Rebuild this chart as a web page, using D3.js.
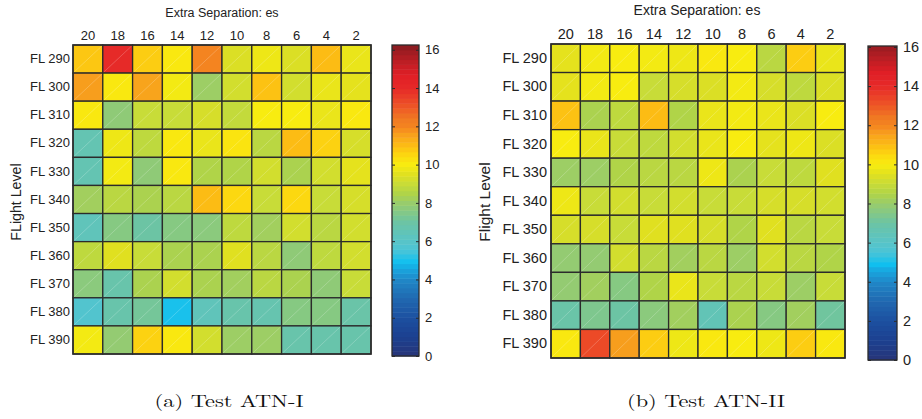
<!DOCTYPE html>
<html>
<head>
<meta charset="utf-8">
<script src="https://cdn.jsdelivr.net/npm/d3@7"></script>
<style>
  html, body { margin: 0; padding: 0; background: #fff; }
  svg { display: block; }
</style>
</head>
<body>
<svg id="chart" width="922" height="419"></svg>
<script>
// ---------------- data ----------------
const separations = ["20", "18", "16", "14", "12", "10", "8", "6", "4", "2"];
const flightLevels = ["FL 290", "FL 300", "FL 310", "FL 320", "FL 330", "FL 340",
                      "FL 350", "FL 360", "FL 370", "FL 380", "FL 390"];
const colorbarTicks = [0, 2, 4, 6, 8, 10, 12, 14, 16];

// Test ATN-I (rows = flight levels, columns = separations 20..2)
const atn1Values = [
  [10.8, 14.0, 10.7, 10.1, 12.0, 9.4, 9.8, 9.4, 11.0, 9.7],
  [11.6, 10.1, 11.5, 9.9, 8.1, 9.2, 10.9, 9.2, 9.7, 9.6],
  [10.1, 7.8, 9.0, 9.0, 9.3, 8.9, 10.0, 10.0, 9.7, 10.1],
  [6.6, 9.8, 8.8, 10.1, 9.7, 10.2, 8.7, 11.0, 10.6, 9.3],
  [6.6, 9.9, 7.8, 10.1, 8.5, 8.5, 9.2, 8.4, 9.2, 9.6],
  [8.2, 8.7, 8.4, 8.7, 11.0, 10.5, 9.0, 10.5, 9.0, 9.3],
  [6.4, 7.6, 7.0, 7.6, 7.7, 8.8, 8.2, 9.2, 8.7, 9.2],
  [8.8, 9.5, 9.0, 8.4, 8.4, 9.5, 8.7, 7.8, 8.8, 9.2],
  [7.7, 6.8, 8.4, 9.2, 8.4, 8.2, 8.7, 8.4, 7.8, 9.0],
  [5.8, 6.8, 7.2, 5.0, 6.4, 6.8, 6.7, 7.6, 7.6, 6.9],
  [9.9, 7.9, 10.6, 10.1, 9.2, 8.1, 8.1, 6.8, 6.8, 6.8]
];

// Test ATN-II
const atn2Values = [
  [9.6, 9.9, 10.0, 9.9, 9.8, 10.1, 10.0, 8.7, 10.7, 9.7],
  [9.6, 9.9, 10.0, 9.0, 9.3, 9.4, 9.9, 9.3, 8.8, 9.4],
  [10.9, 8.4, 8.8, 11.0, 8.5, 9.7, 9.9, 9.7, 9.4, 10.0],
  [10.0, 9.7, 9.0, 8.8, 9.2, 9.7, 10.0, 9.6, 9.8, 9.4],
  [8.1, 8.1, 8.5, 8.7, 8.7, 9.8, 8.4, 9.0, 8.8, 9.5],
  [9.8, 9.0, 9.2, 9.0, 9.2, 9.0, 9.0, 9.3, 9.3, 9.2],
  [9.3, 9.3, 9.0, 9.5, 9.5, 9.3, 8.5, 9.5, 8.7, 9.0],
  [7.9, 7.9, 9.2, 8.7, 8.2, 8.7, 8.1, 9.2, 8.7, 8.5],
  [7.9, 8.2, 7.6, 8.5, 9.7, 9.0, 8.7, 9.0, 8.1, 9.0],
  [6.9, 7.4, 7.0, 7.7, 8.2, 6.5, 8.4, 7.6, 8.2, 7.1],
  [10.1, 13.3, 11.6, 10.7, 9.8, 10.1, 10.0, 9.8, 10.7, 10.1]
];

// colormap stops
const cmapValues = [0, 1, 2, 3, 4, 4.6, 4.9, 5.5, 6, 7, 8, 8.5, 9, 9.5, 10, 10.5, 11, 11.5, 12, 12.4, 13, 13.5, 14, 14.7, 15.3, 16, 16.3];
const cmapColors = ["#283478", "#1c4090", "#1c50a0", "#2068b0", "#2088c8", "#18a8e0", "#10c0f0", "#48c4d8",
                    "#58c4c8", "#6cc4a4", "#98cc6c", "#b0d448", "#c8dc38", "#e0e020", "#f8ec10", "#fcd810",
                    "#fcbc14", "#f8a41c", "#f48420", "#f07a22", "#ee5826", "#ea4028", "#e62a28", "#e01e26",
                    "#c01e24", "#9a1c22", "#7c1c20"];

// ---------------- drawing ----------------
const color = d3.scaleLinear().domain(cmapValues).range(cmapColors).interpolate(d3.interpolateRgb).clamp(true);
const svg = d3.select("#chart");
const textColor = "#222";
const sans = "Liberation Sans, Arial, sans-serif";

function panel(cfg) {
  const g = svg.append("g");
  const x = d3.scaleBand().domain(separations).range([cfg.x0, cfg.x1]);
  const y = d3.scaleBand().domain(flightLevels).range([cfg.y0, cfg.y1]);

  const cells = [];
  cfg.values.forEach((row, i) => row.forEach((v, j) => cells.push({ fl: flightLevels[i], es: separations[j], v })));

  g.selectAll("rect.cell").data(cells).join("rect")
    .attr("class", "cell")
    .attr("x", d => x(d.es)).attr("y", d => y(d.fl))
    .attr("width", x.bandwidth()).attr("height", y.bandwidth())
    .attr("fill", d => color(d.v))
    .attr("stroke", "#2b2b2b").attr("stroke-width", 1.3);

  // faint diagonal seams (triangle rendering artefact)
  g.selectAll("line.diag").data(cells).join("line")
    .attr("class", "diag")
    .attr("x1", d => x(d.es) + 1).attr("y1", d => y(d.fl) + y.bandwidth() - 1)
    .attr("x2", d => x(d.es) + x.bandwidth() - 1).attr("y2", d => y(d.fl) + 1)
    .attr("stroke", "#fff").attr("stroke-opacity", 0.35).attr("stroke-width", 0.6);

  g.append("rect").attr("x", cfg.x0).attr("y", cfg.y0)
    .attr("width", cfg.x1 - cfg.x0).attr("height", cfg.y1 - cfg.y0)
    .attr("fill", "none").attr("stroke", "#2b2b2b").attr("stroke-width", 1.5);

  // top axis (column labels)
  const xAxis = g.append("g").attr("transform", `translate(0,${cfg.y0})`)
    .call(d3.axisTop(x).tickSize(0).tickPadding(cfg.colPad));
  xAxis.select(".domain").remove();
  xAxis.selectAll("text").attr("font-family", sans).attr("font-size", cfg.fs).attr("fill", textColor);

  // left axis (row labels)
  const yAxis = g.append("g").attr("transform", `translate(${cfg.x0},0)`)
    .call(d3.axisLeft(y).tickSize(0).tickPadding(cfg.rowPad));
  yAxis.select(".domain").remove();
  yAxis.selectAll("text").attr("font-family", sans).attr("font-size", cfg.fs).attr("fill", textColor);

  // titles
  g.append("text").attr("x", cfg.titleX).attr("y", cfg.titleY)
    .attr("text-anchor", "middle").attr("font-family", sans).attr("font-size", cfg.titleFs)
    .attr("fill", textColor).text("Extra Separation: es");
  g.append("text").attr("transform", `translate(${cfg.yTitleX},${cfg.yTitleY}) rotate(-90)`)
    .attr("text-anchor", "middle").attr("font-family", sans).attr("font-size", cfg.yTitleFs)
    .attr("fill", textColor).text(cfg.yTitle);

  // colour bar
  const cb = d3.scaleLinear().domain([0, cfg.cbMax]).range([cfg.cbY1, cfg.cbY0]);
  const nBands = 64;
  const bands = d3.range(nBands).map(i => ({ lo: cfg.cbMax * i / nBands, hi: cfg.cbMax * (i + 1) / nBands }));
  g.selectAll("rect.band").data(bands).join("rect")
    .attr("class", "band")
    .attr("x", cfg.cbX0).attr("width", cfg.cbX1 - cfg.cbX0)
    .attr("y", d => cb(d.hi)).attr("height", d => cb(d.lo) - cb(d.hi) + 0.5)
    .attr("fill", d => color((d.lo + d.hi) / 2));
  g.append("rect").attr("x", cfg.cbX0).attr("y", cfg.cbY0)
    .attr("width", cfg.cbX1 - cfg.cbX0).attr("height", cfg.cbY1 - cfg.cbY0)
    .attr("fill", "none").attr("stroke", "#2b2b2b").attr("stroke-width", 1.3);
  const cAxis = g.append("g").attr("transform", `translate(${cfg.cbX1},0)`)
    .call(d3.axisRight(cb).tickValues(colorbarTicks).tickFormat(d3.format("d")).tickSize(-3).tickPadding(6));
  cAxis.select(".domain").remove();
  cAxis.selectAll("line").attr("stroke", "#2b2b2b");
  cAxis.selectAll("text").attr("font-family", sans).attr("font-size", cfg.cbFs).attr("fill", textColor);
  const cAxisL = g.append("g").attr("transform", `translate(${cfg.cbX0},0)`)
    .call(d3.axisLeft(cb).tickValues(colorbarTicks).tickFormat("").tickSize(-3));
  cAxisL.select(".domain").remove();
  cAxisL.selectAll("line").attr("stroke", "#2b2b2b");

  // caption
  g.append("text").attr("x", cfg.capX).attr("y", 407)
    .attr("text-anchor", "middle").attr("font-family", "Latin Modern Roman, DejaVu Serif, serif")
    .attr("font-size", 17).attr("textLength", cfg.capW).attr("lengthAdjust", "spacingAndGlyphs")
    .attr("fill", "#111").text(cfg.caption);
}

panel({
  values: atn1Values, x0: 73, x1: 371, y0: 45, y1: 354,
  fs: 13, titleFs: 12.5, colPad: 5, rowPad: 3, titleX: 222, titleY: 17,
  yTitle: "FLight Level", yTitleFs: 14.2, yTitleX: 21, yTitleY: 202,
  cbX0: 392, cbX1: 419, cbY0: 45, cbY1: 356, cbMax: 16.25, cbFs: 13,
  caption: "(a) Test ATN-I", capX: 229, capW: 149
});

panel({
  values: atn2Values, x0: 551, x1: 845, y0: 44, y1: 358,
  fs: 14.5, titleFs: 14, colPad: 5, rowPad: 4, titleX: 697, titleY: 15,
  yTitle: "Flight Level", yTitleFs: 15.5, yTitleX: 490, yTitleY: 202,
  cbX0: 868, cbX1: 897, cbY0: 46, cbY1: 360, cbMax: 16.05, cbFs: 14.5,
  caption: "(b) Test ATN-II", capX: 706, capW: 158
});
</script>
</body>
</html>
